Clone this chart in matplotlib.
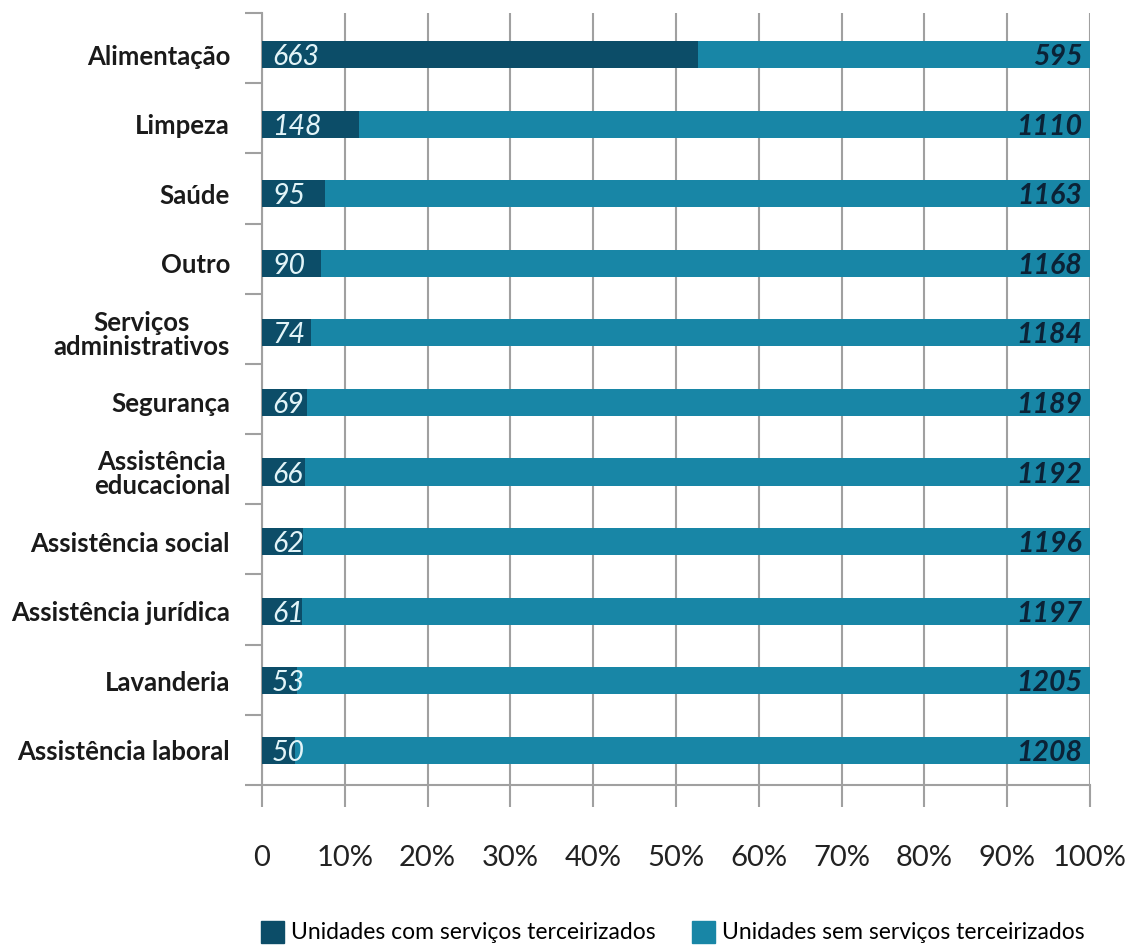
import matplotlib
matplotlib.use("Agg")
import matplotlib.pyplot as plt
from matplotlib.patches import Patch

plt.rcParams["font.family"] = ["Lato", "DejaVu Sans"]

categorias = ["Alimentação", "Limpeza", "Saúde", "Outro", "Serviços\nadministrativos",
              "Segurança", "Assistência\neducacional", "Assistência social",
              "Assistência jurídica", "Lavanderia", "Assistência laboral"]
com_servico = [663, 148, 95, 90, 74, 69, 66, 62, 61, 53, 50]
sem_servico = [595, 1110, 1163, 1168, 1184, 1189, 1192, 1196, 1197, 1205, 1208]
xticks = [0, 0.1, 0.2, 0.3, 0.4, 0.5, 0.6, 0.7, 0.8, 0.9, 1.0]
xlabels = ["0", "10%", "20%", "30%", "40%", "50%", "60%", "70%", "80%", "90%", "100%"]

escuro = "#0c4d68"
claro = "#1886a6"
cinza = "#a0a0a0"

fig = plt.figure(figsize=(11.3, 9.47), dpi=100)
# eixo: x de 262 a 1090 px, y de 13 a 785 px
ax = fig.add_axes([262 / 1130, 1 - 785 / 947, 828 / 1130, 772 / 947])

n = len(categorias)
y = list(range(n))
total = [a + b for a, b in zip(com_servico, sem_servico)]
p_com = [a / t for a, t in zip(com_servico, total)]
p_sem = [b / t for b, t in zip(sem_servico, total)]

ax.barh(y, p_com, height=0.39, color=escuro, zorder=3)
ax.barh(y, p_sem, left=p_com, height=0.39, color=claro, zorder=3)

for i in y:
    ax.text(0.012, i, str(com_servico[i]), ha="left", va="center_baseline", fontsize=20.5,
            style="italic", color="#e2f4f8", zorder=4)
    ax.text(0.991, i, str(sem_servico[i]), ha="right", va="center_baseline", fontsize=20.5,
            style="italic", fontweight="bold", color="#0b2236", zorder=4)

topo = -0.6
ax.set_xlim(0, 1)
ax.set_ylim(n - 0.5, topo)

ax.set_yticks(y)
ax.set_yticklabels(categorias, fontsize=18.5, fontweight="bold", color="#1a1a1a",
                   multialignment="center", linespacing=1.0)
# marcas separadoras igualmente espaçadas ao longo do eixo
passo = (n - 0.5 - topo) / n
ax.set_yticks([topo + k * passo for k in range(n + 1)], minor=True)
ax.tick_params(axis="y", which="major", length=0, pad=23)
ax.tick_params(axis="y", which="minor", length=12, width=1.5, color=cinza)

ax.set_xticks(xticks)
ax.set_xticklabels(xlabels, fontsize=21, color="#222222")
ax.tick_params(axis="x", length=16, width=1.5, color=cinza, pad=27)
ax.grid(axis="x", color=cinza, linewidth=1.5, zorder=0)

for s in ["top", "right"]:
    ax.spines[s].set_visible(False)
for s in ["left", "bottom"]:
    ax.spines[s].set_color(cinza)
    ax.spines[s].set_linewidth(1.5)

handles = [Patch(color=escuro, label="Unidades com serviços terceirizados"),
           Patch(color=claro, label="Unidades sem serviços terceirizados")]
fig.legend(handles=handles, loc="center", bbox_to_anchor=(673 / 1130, 1 - 932 / 947),
           ncol=2, frameon=False, fontsize=16.5, handlelength=1.0, handleheight=1.1,
           handletextpad=0.3, columnspacing=1.6, borderaxespad=0, borderpad=0)

fig.savefig("out.png", dpi=100)
